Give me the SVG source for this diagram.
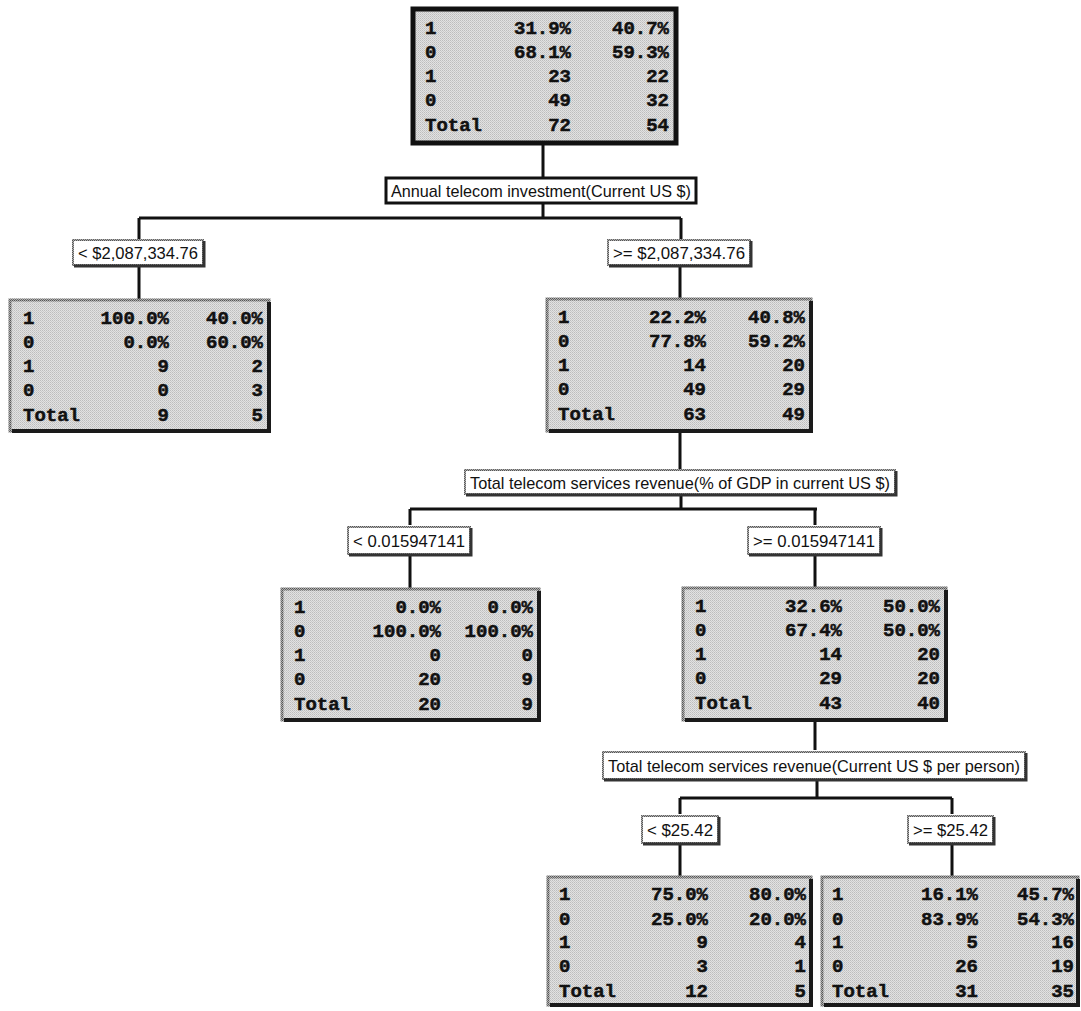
<svg xmlns="http://www.w3.org/2000/svg" width="1081" height="1011" viewBox="0 0 1081 1011">
<defs>
<pattern id="dither" width="2" height="2" patternUnits="userSpaceOnUse">
<rect width="2" height="2" fill="#e2e2e2"/>
<rect x="0" y="0" width="1" height="1" fill="#bdbdbd"/>
<rect x="1" y="1" width="1" height="1" fill="#cacaca"/>
</pattern>
<pattern id="edge" width="2" height="2" patternUnits="userSpaceOnUse">
<rect width="2" height="2" fill="#b0b0b0"/>
<rect x="0" y="0" width="1" height="1" fill="#555"/>
<rect x="1" y="1" width="1" height="1" fill="#666"/>
</pattern>
</defs>
<style>
.box{fill:url(#dither);stroke:url(#edge);stroke-width:3}
.root{fill:url(#dither);stroke:#111;stroke-width:5}
.shade{fill:none;stroke:#1a1a1a;stroke-width:4}
.lbl{fill:#fff;stroke:url(#edge);stroke-width:2}
.lbl1{fill:#fff;stroke:#111;stroke-width:3}
.lshade{fill:none;stroke:#333;stroke-width:3}
.conn{fill:none;stroke:#111;stroke-width:3}
.t{font-family:"Liberation Mono","DejaVu Sans Mono",monospace;font-weight:bold;font-size:19px;fill:#111;stroke:#111;stroke-width:0.5}
.e{text-anchor:end}
.lt{font-family:"Liberation Sans","Arial",sans-serif;font-size:17px;fill:#111}
</style>

<g id="connectors">
<path class="conn" d="M543 143V178M543 203V218M139 218H681M139 218V240M681 218V240M139 266V300M680 266V299M680 432V470M681 495V509M410 509H817M410 509V525M815 509V525M410 556V589M815 556V588M815 720V750M817 780V798M680 798H952M680 798V814M952 798V814M680 845V877M952 845V877"/>
</g>

<g id="node-root">
<rect class="root" x="413" y="9" width="263" height="134"/>
<text class="t" x="425" y="34">1</text><text class="t e" x="571" y="34">31.9%</text><text class="t e" x="669" y="34">40.7%</text>
<text class="t" x="425" y="58">0</text><text class="t e" x="571" y="58">68.1%</text><text class="t e" x="669" y="58">59.3%</text>
<text class="t" x="425" y="82">1</text><text class="t e" x="571" y="82">23</text><text class="t e" x="669" y="82">22</text>
<text class="t" x="425" y="106">0</text><text class="t e" x="571" y="106">49</text><text class="t e" x="669" y="106">32</text>
<text class="t" x="425" y="131">Total</text><text class="t e" x="571" y="131">72</text><text class="t e" x="669" y="131">54</text>
</g>

<g id="split-1">
<rect class="lbl1" x="386" y="178" width="310" height="25"/>
<text class="lt" x="391" y="197" textLength="300" lengthAdjust="spacingAndGlyphs">Annual telecom investment(Current US $)</text>
</g>

<g id="cond-1-left">
<rect class="lbl" x="73" y="240" width="130" height="25"/>
<polyline class="lshade" points="204,241 204,266 74,266"/>
<text class="lt" x="78" y="259" textLength="120" lengthAdjust="spacingAndGlyphs">&lt; $2,087,334.76</text>
</g>

<g id="cond-1-right">
<rect class="lbl" x="608" y="240" width="142" height="25"/>
<polyline class="lshade" points="751,241 751,266 609,266"/>
<text class="lt" x="613" y="259" textLength="132" lengthAdjust="spacingAndGlyphs">&gt;= $2,087,334.76</text>
</g>

<g id="node-left">
<rect class="box" x="10" y="300" width="259" height="131"/>
<polyline class="shade" points="269,302 269,431 12,431"/>
<text class="t" x="23" y="324">1</text><text class="t e" x="169" y="324">100.0%</text><text class="t e" x="263" y="324">40.0%</text>
<text class="t" x="23" y="348">0</text><text class="t e" x="169" y="348">0.0%</text><text class="t e" x="263" y="348">60.0%</text>
<text class="t" x="23" y="372">1</text><text class="t e" x="169" y="372">9</text><text class="t e" x="263" y="372">2</text>
<text class="t" x="23" y="396">0</text><text class="t e" x="169" y="396">0</text><text class="t e" x="263" y="396">3</text>
<text class="t" x="23" y="421">Total</text><text class="t e" x="169" y="421">9</text><text class="t e" x="263" y="421">5</text>
</g>

<g id="node-right">
<rect class="box" x="547" y="299" width="264" height="132"/>
<polyline class="shade" points="811,301 811,431 549,431"/>
<text class="t" x="558" y="323">1</text><text class="t e" x="706" y="323">22.2%</text><text class="t e" x="805" y="323">40.8%</text>
<text class="t" x="558" y="347">0</text><text class="t e" x="706" y="347">77.8%</text><text class="t e" x="805" y="347">59.2%</text>
<text class="t" x="558" y="371">1</text><text class="t e" x="706" y="371">14</text><text class="t e" x="805" y="371">20</text>
<text class="t" x="558" y="395">0</text><text class="t e" x="706" y="395">49</text><text class="t e" x="805" y="395">29</text>
<text class="t" x="558" y="420">Total</text><text class="t e" x="706" y="420">63</text><text class="t e" x="805" y="420">49</text>
</g>

<g id="split-2">
<rect class="lbl" x="465" y="470" width="430" height="24"/>
<polyline class="lshade" points="896,471 896,495 466,495"/>
<text class="lt" x="470" y="489" textLength="420" lengthAdjust="spacingAndGlyphs">Total telecom services revenue(% of GDP in current US $)</text>
</g>

<g id="cond-2-left">
<rect class="lbl" x="348" y="527" width="122" height="27"/>
<polyline class="lshade" points="471,528 471,555 349,555"/>
<text class="lt" x="353" y="547" textLength="112" lengthAdjust="spacingAndGlyphs">&lt; 0.015947141</text>
</g>

<g id="cond-2-right">
<rect class="lbl" x="748" y="527" width="132" height="27"/>
<polyline class="lshade" points="881,528 881,555 749,555"/>
<text class="lt" x="753" y="547" textLength="122" lengthAdjust="spacingAndGlyphs">&gt;= 0.015947141</text>
</g>

<g id="node-mid-left">
<rect class="box" x="282" y="589" width="257" height="131"/>
<polyline class="shade" points="539,591 539,720 284,720"/>
<text class="t" x="294" y="613">1</text><text class="t e" x="441" y="613">0.0%</text><text class="t e" x="533" y="613">0.0%</text>
<text class="t" x="294" y="637">0</text><text class="t e" x="441" y="637">100.0%</text><text class="t e" x="533" y="637">100.0%</text>
<text class="t" x="294" y="661">1</text><text class="t e" x="441" y="661">0</text><text class="t e" x="533" y="661">0</text>
<text class="t" x="294" y="685">0</text><text class="t e" x="441" y="685">20</text><text class="t e" x="533" y="685">9</text>
<text class="t" x="294" y="710">Total</text><text class="t e" x="441" y="710">20</text><text class="t e" x="533" y="710">9</text>
</g>

<g id="node-mid-right">
<rect class="box" x="683" y="588" width="263" height="132"/>
<polyline class="shade" points="946,590 946,720 685,720"/>
<text class="t" x="695" y="612">1</text><text class="t e" x="842" y="612">32.6%</text><text class="t e" x="940" y="612">50.0%</text>
<text class="t" x="695" y="636">0</text><text class="t e" x="842" y="636">67.4%</text><text class="t e" x="940" y="636">50.0%</text>
<text class="t" x="695" y="660">1</text><text class="t e" x="842" y="660">14</text><text class="t e" x="940" y="660">20</text>
<text class="t" x="695" y="684">0</text><text class="t e" x="842" y="684">29</text><text class="t e" x="940" y="684">20</text>
<text class="t" x="695" y="709">Total</text><text class="t e" x="842" y="709">43</text><text class="t e" x="940" y="709">40</text>
</g>

<g id="split-3">
<rect class="lbl" x="603" y="752" width="422" height="27"/>
<polyline class="lshade" points="1026,753 1026,780 604,780"/>
<text class="lt" x="608" y="772" textLength="412" lengthAdjust="spacingAndGlyphs">Total telecom services revenue(Current US $ per person)</text>
</g>

<g id="cond-3-left">
<rect class="lbl" x="642" y="816" width="76" height="27"/>
<polyline class="lshade" points="719,817 719,844 643,844"/>
<text class="lt" x="647" y="836" textLength="66" lengthAdjust="spacingAndGlyphs">&lt; $25.42</text>
</g>

<g id="cond-3-right">
<rect class="lbl" x="908" y="816" width="85" height="27"/>
<polyline class="lshade" points="994,817 994,844 909,844"/>
<text class="lt" x="913" y="836" textLength="75" lengthAdjust="spacingAndGlyphs">&gt;= $25.42</text>
</g>

<g id="node-bottom-left">
<rect class="box" x="548" y="877" width="263" height="128"/>
<polyline class="shade" points="811,879 811,1005 550,1005"/>
<text class="t" x="559" y="900">1</text><text class="t e" x="708" y="900">75.0%</text><text class="t e" x="806" y="900">80.0%</text>
<text class="t" x="559" y="925">0</text><text class="t e" x="708" y="925">25.0%</text><text class="t e" x="806" y="925">20.0%</text>
<text class="t" x="559" y="948">1</text><text class="t e" x="708" y="948">9</text><text class="t e" x="806" y="948">4</text>
<text class="t" x="559" y="972">0</text><text class="t e" x="708" y="972">3</text><text class="t e" x="806" y="972">1</text>
<text class="t" x="559" y="997">Total</text><text class="t e" x="708" y="997">12</text><text class="t e" x="806" y="997">5</text>
</g>

<g id="node-bottom-right">
<rect class="box" x="822" y="877" width="256" height="128"/>
<polyline class="shade" points="1078,879 1078,1005 824,1005"/>
<text class="t" x="832" y="900">1</text><text class="t e" x="978" y="900">16.1%</text><text class="t e" x="1074" y="900">45.7%</text>
<text class="t" x="832" y="925">0</text><text class="t e" x="978" y="925">83.9%</text><text class="t e" x="1074" y="925">54.3%</text>
<text class="t" x="832" y="948">1</text><text class="t e" x="978" y="948">5</text><text class="t e" x="1074" y="948">16</text>
<text class="t" x="832" y="972">0</text><text class="t e" x="978" y="972">26</text><text class="t e" x="1074" y="972">19</text>
<text class="t" x="832" y="997">Total</text><text class="t e" x="978" y="997">31</text><text class="t e" x="1074" y="997">35</text>
</g>
</svg>
